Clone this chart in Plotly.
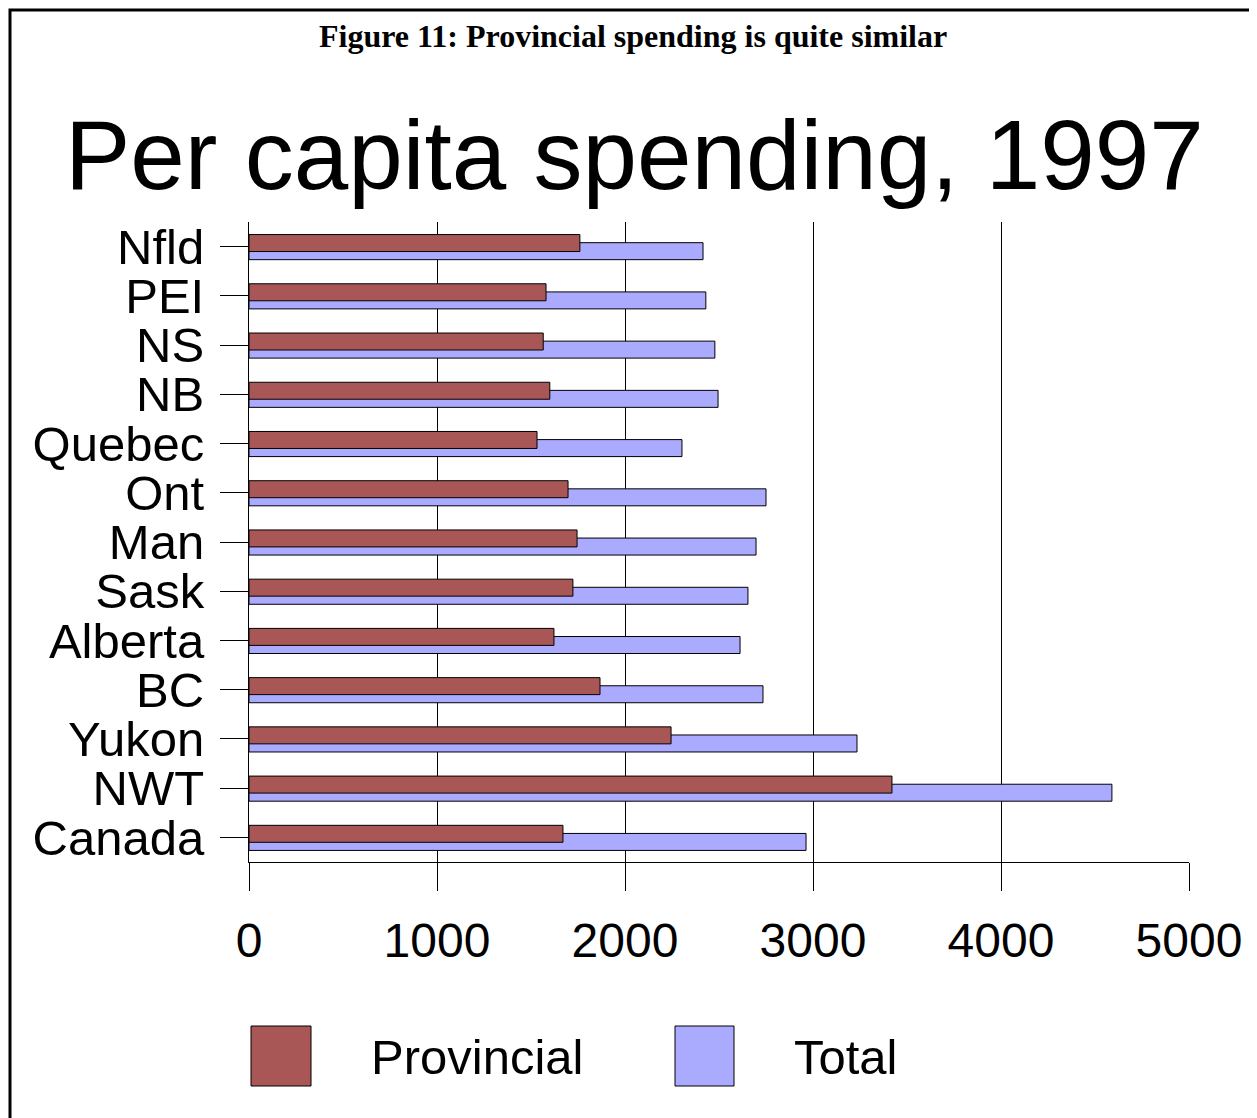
import plotly.graph_objects as go

regions = ["Nfld", "PEI", "NS", "NB", "Quebec", "Ont", "Man", "Sask",
           "Alberta", "BC", "Yukon", "NWT", "Canada"]
provincial = [1760, 1580, 1565, 1600, 1532, 1697, 1745, 1723, 1622, 1867, 2245, 3420, 1670]
total = [2415, 2430, 2478, 2495, 2303, 2750, 2697, 2654, 2612, 2734, 3234, 4590, 2963]
x_ticks = [0, 1000, 2000, 3000, 4000, 5000]

RED = "#A95656"
BLUE = "#AAAAFF"

fig = go.Figure()
fig.add_trace(go.Bar(y=regions, x=total, orientation="h", name="Total",
                     marker=dict(color=BLUE, line=dict(color="black", width=1)),
                     width=0.345, offset=-0.08, showlegend=False))
fig.add_trace(go.Bar(y=regions, x=provincial, orientation="h", name="Provincial",
                     marker=dict(color=RED, line=dict(color="black", width=1)),
                     width=0.345, offset=-0.245, showlegend=False))

# page has an 8px body margin; compensate
OFF = 8
L, R, T, B = 249, 1189, 222, 862
W, H = R - L, B - T
def px(p): return (p - L) / W
def py(p): return (B - p) / H

shapes = [
    dict(type="rect", xref="paper", yref="paper", x0=px(10), x1=px(1252), y0=py(1130), y1=py(10),
         line=dict(color="black", width=3), fillcolor="rgba(0,0,0,0)", layer="above"),
    dict(type="rect", xref="paper", yref="paper", x0=px(251), x1=px(311), y0=py(1086), y1=py(1026),
         line=dict(color="black", width=1), fillcolor=RED),
    dict(type="rect", xref="paper", yref="paper", x0=px(675), x1=px(734), y0=py(1086), y1=py(1026),
         line=dict(color="black", width=1), fillcolor=BLUE),
]
annotations = [
    dict(text="<b>Figure 11: Provincial spending is quite similar</b>", xref="paper", yref="paper",
         x=px(633), y=py(36), xanchor="center", yanchor="middle", showarrow=False,
         font=dict(family="Liberation Serif", size=32, color="black")),
    dict(text="Per capita spending, 1997", xref="paper", yref="paper",
         x=px(634), y=py(155), xanchor="center", yanchor="middle", showarrow=False,
         font=dict(family="Liberation Sans, Arial", size=98, color="black")),
    dict(text="Provincial", xref="paper", yref="paper", x=px(369), y=py(1057),
         xanchor="left", yanchor="middle", showarrow=False,
         font=dict(family="Liberation Sans, Arial", size=49, color="black")),
    dict(text="Total", xref="paper", yref="paper", x=px(792), y=py(1057),
         xanchor="left", yanchor="middle", showarrow=False,
         font=dict(family="Liberation Sans, Arial", size=49, color="black")),
]

fig.update_layout(
    width=1257 - OFF, height=1118 - OFF,
    margin=dict(l=L - OFF, r=1257 - R, t=T - OFF, b=1118 - B, pad=0),
    paper_bgcolor="white", plot_bgcolor="white",
    barmode="overlay",
    shapes=shapes, annotations=annotations,
    font=dict(family="Liberation Sans, Arial", color="black"),
)
fig.update_xaxes(range=[0, 5000], tickvals=x_ticks, ticktext=[str(v) for v in x_ticks],
                 showgrid=True, gridcolor="black", gridwidth=1,
                 showline=True, linecolor="black", linewidth=1,
                 ticks="outside", ticklen=28, tickcolor="black", tickwidth=1,
                 tickfont=dict(size=48), ticklabelstandoff=8, zeroline=False)
fig.update_yaxes(autorange="reversed", showgrid=False, tickmode="array", tickvals=regions,
                 showline=True, linecolor="black", linewidth=1,
                 ticks="outside", ticklen=28, tickcolor="black", tickwidth=1,
                 tickfont=dict(size=49), ticklabelstandoff=6)

fig.write_html("out.html")
